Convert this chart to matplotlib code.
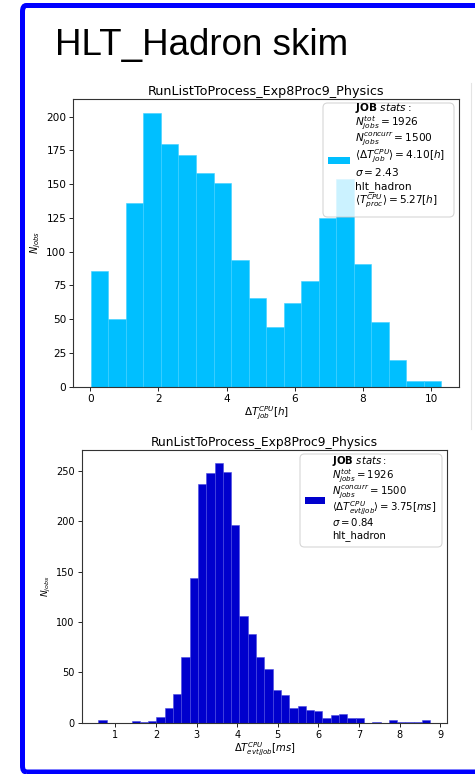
import numpy as np
import matplotlib
matplotlib.use("Agg")
import matplotlib.pyplot as plt
from matplotlib.patches import FancyBboxPatch, Rectangle
from matplotlib.lines import Line2D
from matplotlib.transforms import offset_copy

# ── Data ──────────────────────────────────────────────────────────────────────

job_lo, job_hi = 0.02, 10.30           # range of the per-job CPU time histogram [h]
job_counts = [86, 50, 136, 203, 180, 172, 158, 151, 94, 66,
              44, 62, 78, 125, 154, 91, 48, 20, 4, 4]

evt_lo, evt_hi = 0.58, 8.76            # range of the per-event CPU time histogram [ms]
evt_counts = [3, 0, 0, 0, 2, 1, 2, 6, 15, 29,
              65, 144, 237, 248, 258, 249, 196, 106, 88, 65,
              53, 32, 28, 15, 17, 13, 12, 5, 8, 9,
              5, 5, 0, 1, 0, 3, 1, 1, 1, 3]

run_title = "RunListToProcess_Exp8Proc9_Physics"
slide_title = "HLT_Hadron skim"

job_stats = [
    r"$\mathbf{JOB}\ stats:$",
    r"$N_{jobs}^{tot} = 1926$",
    r"$N_{jobs}^{concurr} = 1500$",
    r"$\langle\Delta T_{job}^{CPU}\rangle = 4.10[h]$",
    r"$\sigma = 2.43$",
    "hlt_hadron",
    r"$\langle T_{proc}^{CPU}\rangle = 5.27[h]$",
]
evt_stats = [
    r"$\mathbf{JOB}\ stats:$",
    r"$N_{jobs}^{tot} = 1926$",
    r"$N_{jobs}^{concurr} = 1500$",
    r"$\langle\Delta T_{evt/job}^{CPU}\rangle = 3.75[ms]$",
    r"$\sigma = 0.84$",
    "hlt_hadron",
]

W, H = 475, 774
fig = plt.figure(figsize=(W / 100, H / 100), dpi=100)


def fx(px):
    return px / W


def fy(py):
    return 1 - py / H


def stats_box(ax, lines, color, fs, box, swatch, text_x, line_y):
    # legend-like box anchored at the axes' top-right corner; all offsets in pixels
    bb = ax.get_position()
    aw, ah = bb.width * W, bb.height * H
    x0, x1, y0, y1 = box
    ax.add_patch(FancyBboxPatch((1 - x0 / aw, 1 - y1 / ah), (x0 - x1) / aw, (y1 - y0) / ah,
                                boxstyle="round,pad=0,rounding_size=0.012",
                                mutation_aspect=aw / ah, transform=ax.transAxes,
                                facecolor="white", edgecolor="0.8", linewidth=0.8,
                                alpha=0.8, zorder=5, clip_on=False))
    sx0, sx1, sy = swatch
    ax.add_patch(Rectangle((1 - sx0 / aw, 1 - (sy + 3.5) / ah), (sx0 - sx1) / aw, 7 / ah,
                           transform=ax.transAxes, facecolor=color, zorder=6,
                           clip_on=False))
    for s, dy in zip(lines, line_y):
        tr = offset_copy(ax.transAxes, fig=fig, x=-text_x, y=-dy, units="dots")
        ax.text(1, 1, s, transform=tr, fontsize=fs, ha="left", va="center", zorder=7)


# ── Slide frame ───────────────────────────────────────────────────────────────

frame = FancyBboxPatch((fx(22.5), fy(772)), fx(520) - fx(22.5), fy(5.5) - fy(772),
                       boxstyle="round,pad=0,rounding_size=0.008",
                       transform=fig.transFigure, fill=False,
                       edgecolor="#0000ff", linewidth=3.6, clip_on=False)
fig.patches.append(frame)
fig.lines.append(Line2D([fx(471), fx(471)], [fy(83), fy(429)],
                        transform=fig.transFigure, color="#e4e4e4", linewidth=0.8))

fig.text(fx(55), fy(55), slide_title, fontsize=26.5, family="Liberation Sans",
         ha="left", va="baseline")

# ── Top: CPU time per job ─────────────────────────────────────────────────────

ax1 = fig.add_axes([fx(73.3), fy(386.7), fx(459) - fx(73.3), fy(99) - fy(386.7)])
edges1 = np.linspace(job_lo, job_hi, len(job_counts) + 1)
centers1 = (edges1[:-1] + edges1[1:]) / 2
ax1.hist(centers1, bins=edges1, weights=job_counts, color="#00bfff",
         edgecolor="#3fd0ff", linewidth=0.4)
ax1.set_title(run_title, fontsize=9.2, pad=3)
ax1.set_xlabel(r"$\Delta T_{job}^{CPU}[h]$", fontsize=7.5, labelpad=1)
ax1.set_ylabel(r"$N_{jobs}$", fontsize=7, labelpad=2)
ax1.tick_params(labelsize=7.6, length=3, width=0.6, pad=2)
ax1.set_xticks([0, 2, 4, 6, 8, 10])
ax1.set_yticks(range(0, 201, 25))
stats_box(ax1, job_stats, "#00bfff", 7.6,
          box=(136, 5, 4, 118), swatch=(131, 109, 61.5), text_x=104,
          line_y=[9, 24, 40, 57, 73, 87.5, 102])
for s in ax1.spines.values():
    s.set_linewidth(0.8)
    s.set_color("#333333")

# ── Bottom: CPU time per event ────────────────────────────────────────────────

ax2 = fig.add_axes([fx(81.7), fy(722.7), fx(447) - fx(81.7), fy(450) - fy(722.7)])
edges2 = np.linspace(evt_lo, evt_hi, len(evt_counts) + 1)
centers2 = (edges2[:-1] + edges2[1:]) / 2
ax2.hist(centers2, bins=edges2, weights=evt_counts, color="#0000cd",
         edgecolor="#4a4ae0", linewidth=0.4)
ax2.set_title(run_title, fontsize=8.8, pad=3)
ax2.set_xlabel(r"$\Delta T_{evt/job}^{CPU}[ms]$", fontsize=7.2, labelpad=1)
ax2.set_ylabel(r"$N_{jobs}$", fontsize=6.5, labelpad=2)
ax2.tick_params(labelsize=7.0, length=3, width=0.6, pad=2)
ax2.set_xticks(range(1, 10))
ax2.set_yticks(range(0, 251, 50))
stats_box(ax2, evt_stats, "#0000cd", 7.3,
          box=(147, 5, 4, 97), swatch=(142, 122, 50), text_x=115.3,
          line_y=[11.5, 26, 41.5, 58, 72.5, 86])
for s in ax2.spines.values():
    s.set_linewidth(0.8)
    s.set_color("#333333")

fig.savefig("out.png", dpi=100)
